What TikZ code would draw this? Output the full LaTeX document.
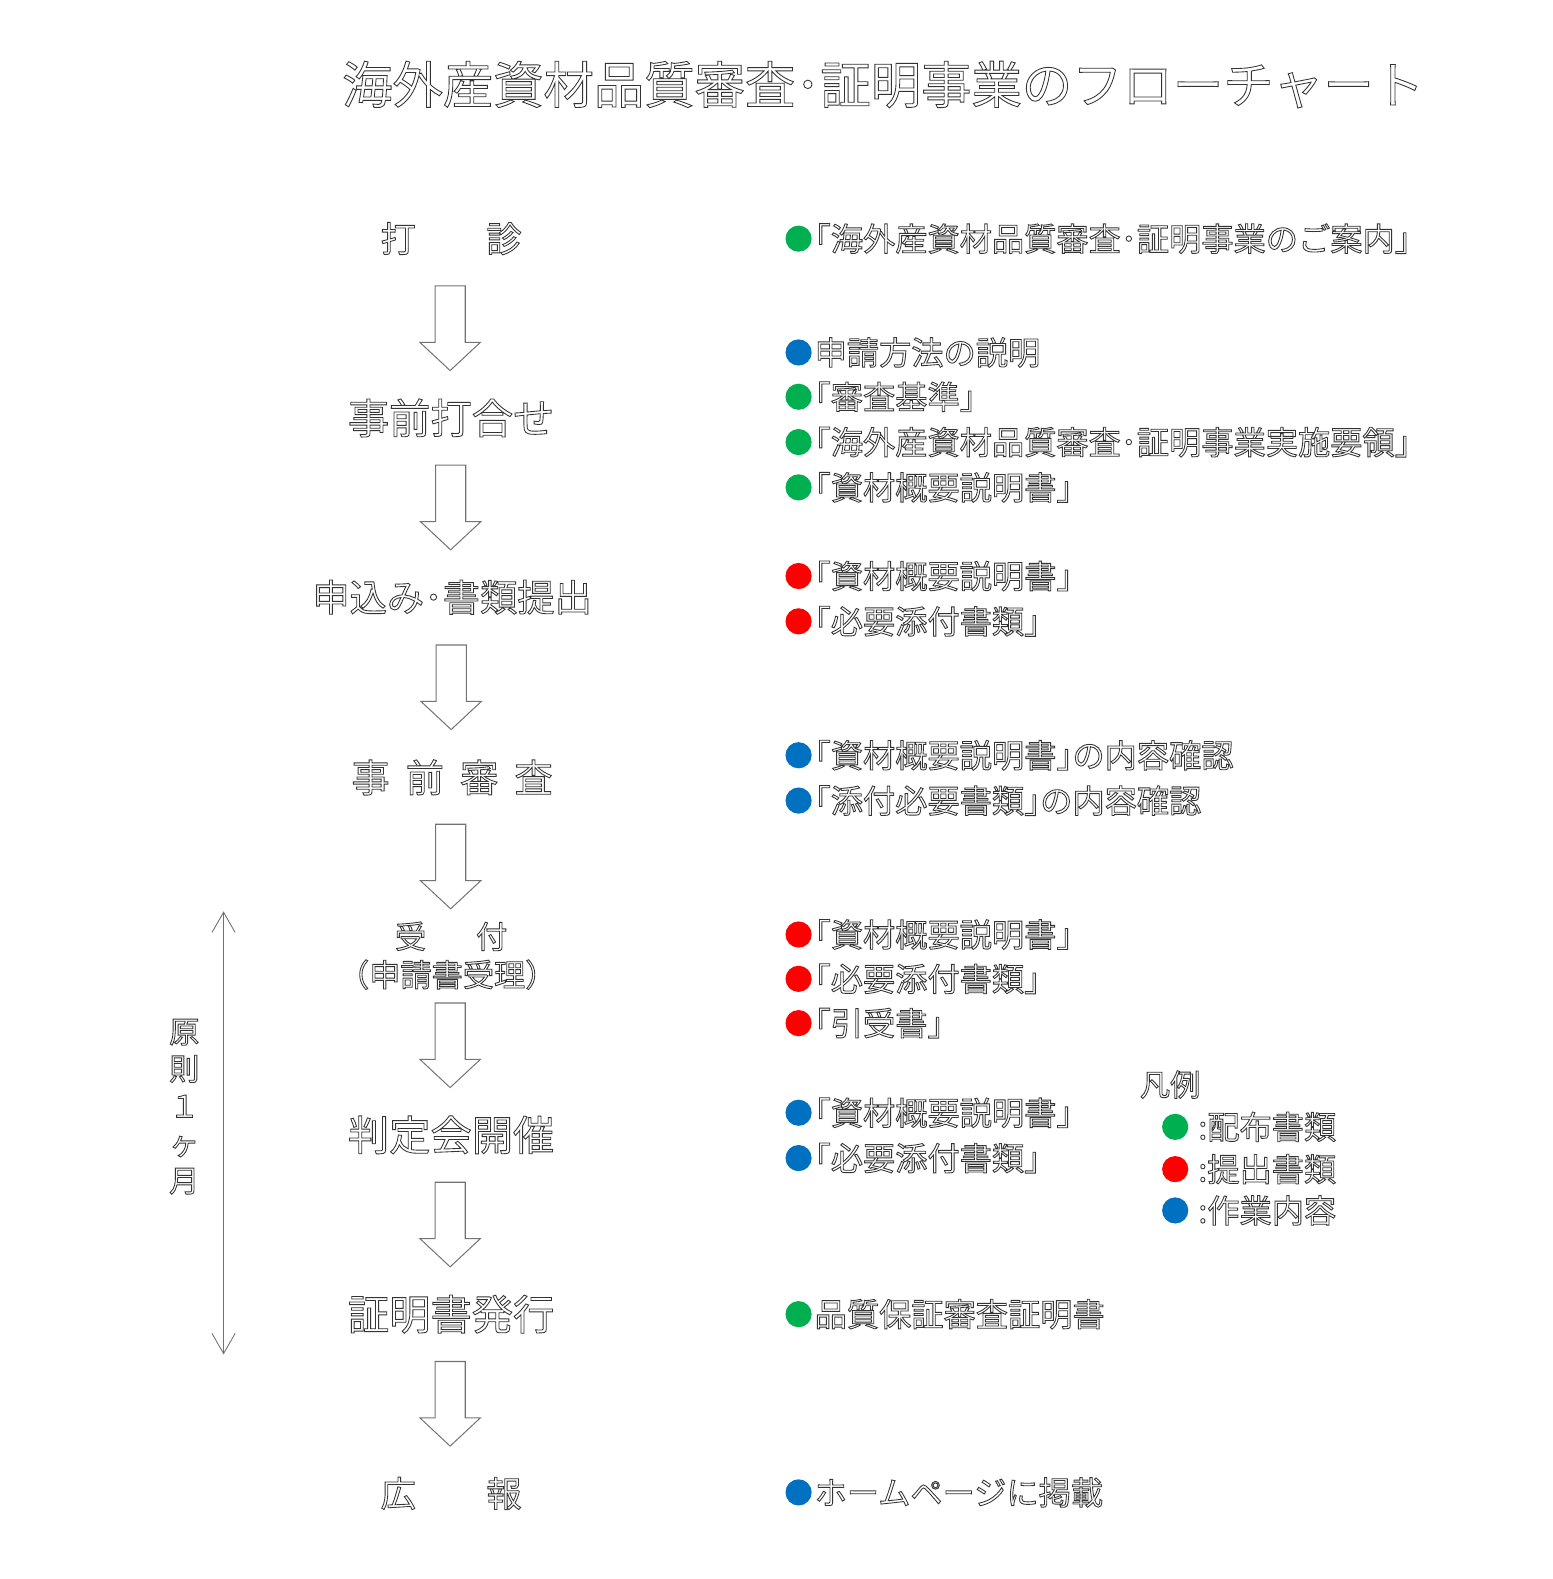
\documentclass[tikz,border=0pt]{standalone}
\usepackage{fontspec}
\newfontfamily\jp{Noto Sans CJK JP}
\usetikzlibrary{calc,arrows.meta}
\definecolor{docgreen}{RGB}{0,176,80}
\definecolor{docred}{RGB}{255,0,0}
\definecolor{docblue}{RGB}{0,112,192}
\definecolor{inkgray}{gray}{0.2}
\definecolor{arrowgray}{gray}{0.45}

% outlined glyphs: stroke the text instead of filling it
\newcommand\outlinetext{\special{pdf:literal direct 1 Tr 0.85 w}}

\tikzset{
  every node/.style={inner sep=0pt, outer sep=0pt, text=inkgray,
                     execute at begin node=\outlinetext},
  stage/.style={font={\jp\fontsize{#1}{#1}\selectfont}, align=center},
  note/.style={font={\jp\fontsize{32}{32}\selectfont}, anchor=west},
  dot/.style={circle, fill=#1, minimum size=26pt},
  pics/downarrow/.style={code={
    \draw[arrowgray, line width=1pt, line join=miter]
      (-15,-42) -- (15,-42) -- (15,14) -- (30,14) -- (0,42) -- (-30,14) -- (-15,14) -- cycle;
  }},
}

% one bulleted line of the right-hand column
\newcommand\docline[4]{%
  \node[dot=#2] (#1dot) at (793,#3) {};
  \node[note] (#1) at (809,#3) {#4};
}

\begin{document}
\begin{tikzpicture}[x=1pt, y=-1pt]
\useasboundingbox (0,0) rectangle (1542,1568);

% title
\node[font={\jp\fontsize{50}{50}\selectfont}] (title) at (877,84)
  {海外産資材品質審査･証明事業のフローチャート};

% stages of the flow
\node[stage=35] (s1) at (448,237) {打　　診};
\node[stage=41] (s2) at (448,415) {事前打合せ};
\node[stage=37] (s3) at (449,593) {申込み･書類提出};
\node[stage=38] (s4) at (449,772) {事\hspace{0.42em}前\hspace{0.42em}審\hspace{0.42em}査};
\node[font={\jp\fontsize{31}{38}\selectfont}, align=center] (s5) at (448,949)
  {受\hspace{1.6em}付\\\hspace{-0.25em}（申請書受理）\hspace{-0.25em}};
\node[stage=41] (s6) at (448,1127) {判定会開催};
\node[stage=41] (s7) at (448,1305) {証明書発行};
\node[stage=35] (s8) at (448,1483) {広　　報};

% block arrows between consecutive stages
\foreach \a/\b in {s1/s2,s2/s3,s3/s4,s4/s5,s5/s6,s6/s7,s7/s8}
  \pic at ($(\a)!0.5!(\b) + (-1,0)$) {downarrow};

% one-month span
\coordinate (spanTop) at (222,905);
\coordinate (spanBot) at (222,1345);
\draw[arrowgray, line width=0.9pt,
      {Straight Barb[length=20pt,width=23pt]}-{Straight Barb[length=20pt,width=23pt]}]
  (spanTop) -- (spanBot);
\node[font={\jp\fontsize{30}{37}\selectfont}, align=center] (span) at (183,1099)
  {原\\則\\１\\ヶ\\月};

% documents and tasks
\docline{r1}{docgreen}{237}{｢海外産資材品質審査･証明事業のご案内｣}
\docline{r2}{docblue}{350}{申請方法の説明}
\docline{r3}{docgreen}{394}{｢審査基準｣}
\docline{r4}{docgreen}{439}{｢海外産資材品質審査･証明事業実施要領｣}
\docline{r5}{docgreen}{484}{｢資材概要説明書｣}
\docline{r6}{docred}{572}{｢資材概要説明書｣}
\docline{r7}{docred}{617}{｢必要添付書類｣}
\docline{r8}{docblue}{750}{｢資材概要説明書｣の内容確認}
\docline{r9}{docblue}{795}{｢添付必要書類｣の内容確認}
\docline{r10}{docred}{928}{｢資材概要説明書｣}
\docline{r11}{docred}{972}{｢必要添付書類｣}
\docline{r12}{docred}{1016}{｢引受書｣}
\docline{r13}{docblue}{1105}{｢資材概要説明書｣}
\docline{r14}{docblue}{1150}{｢必要添付書類｣}
\docline{r15}{docgreen}{1305}{品質保証審査証明書}
\docline{r16}{docblue}{1482}{ホームページに掲載}

% legend
\node[note, font={\jp\fontsize{30}{30}\selectfont}] (legend) at (1132,1077) {凡例};
\node[dot=docgreen] (lg1) at (1167,1119) {};
\node[note] (lt1) at (1190,1119) {:配布書類};
\node[dot=docred] (lg2) at (1167,1161) {};
\node[note] (lt2) at (1190,1161) {:提出書類};
\node[dot=docblue] (lg3) at (1167,1202) {};
\node[note] (lt3) at (1190,1202) {:作業内容};

\end{tikzpicture}
\end{document}
